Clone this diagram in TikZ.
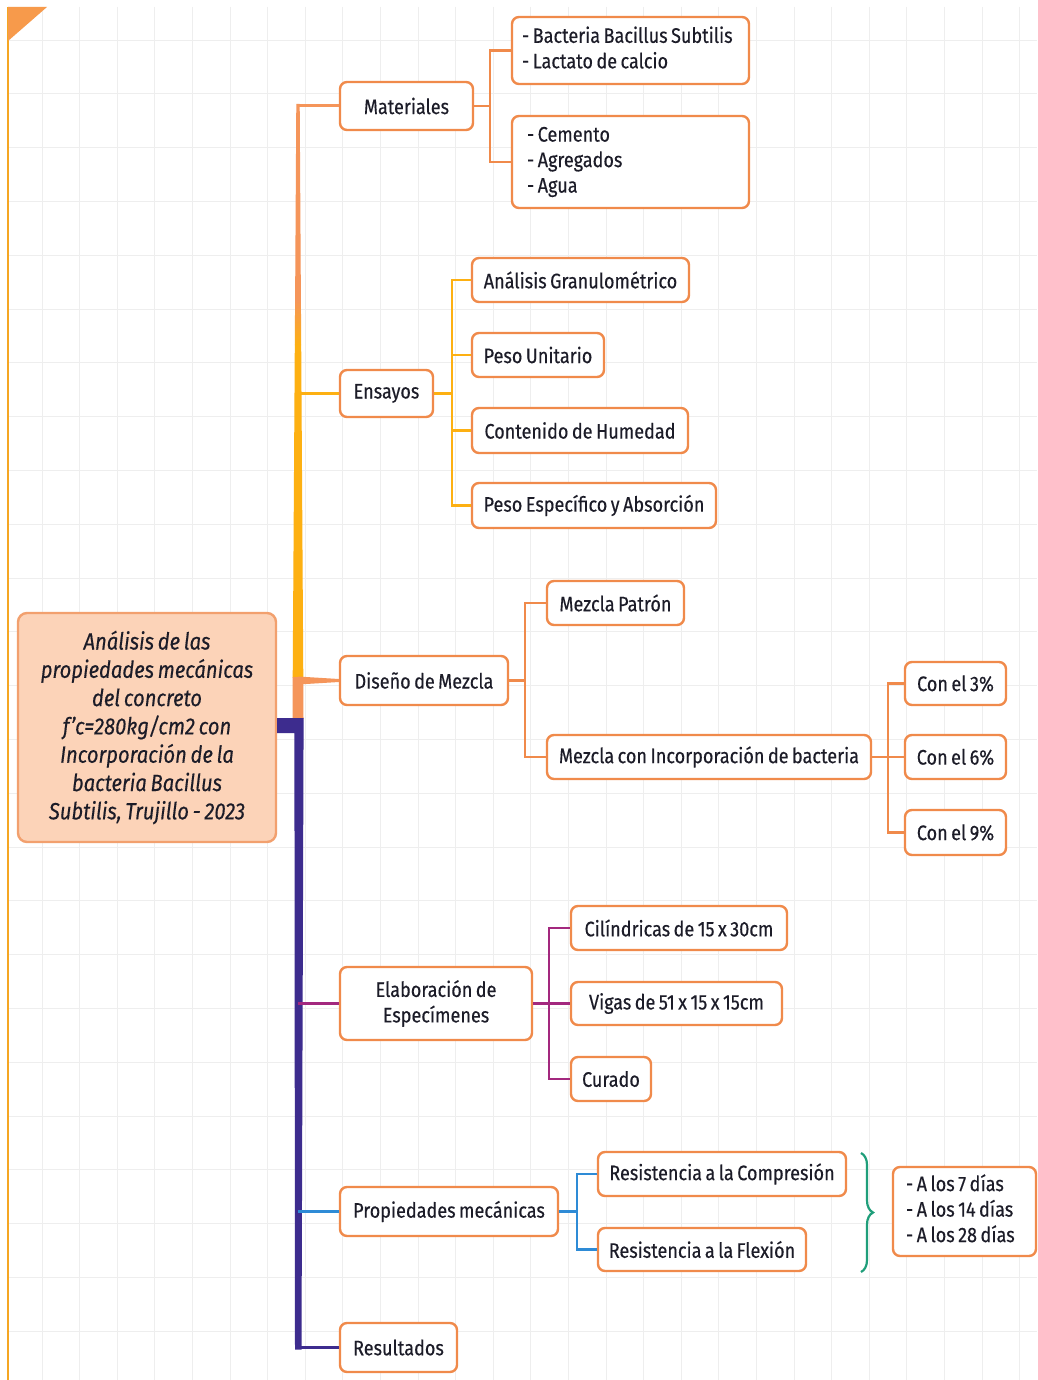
\documentclass[tikz,border=0pt]{standalone}
\usepackage{fontspec}
\setmainfont{Fira Sans}[FakeStretch=0.86, WordSpace=0.72, FakeBold=0.35]
\usetikzlibrary{decorations.pathreplacing}
\definecolor{bord}{HTML}{F08A4B}
\definecolor{rootfill}{HTML}{FCD3B8}
\definecolor{rootbord}{HTML}{F2A06E}
\definecolor{tor}{HTML}{F5955A}
\definecolor{amb}{HTML}{FDB012}
\definecolor{pur}{HTML}{3D2C8E}
\definecolor{mag}{HTML}{A3287E}
\definecolor{blu}{HTML}{2E8BD6}
\definecolor{grn}{HTML}{1F9E7A}
\definecolor{txt}{HTML}{1C1C28}
\definecolor{gridc}{HTML}{EEEEEE}
\definecolor{edgeor}{HTML}{F5A623}
\newcommand{\leftlines}[2]{\makebox[#1][l]{\begin{tabular}{@{}l@{}}#2\end{tabular}}}
\tikzset{
  box/.style={draw=bord, line width=2.4pt, rounded corners=7pt, fill=white,
    inner sep=0pt, text=txt, font=\fontsize{21}{25.5}\selectfont},
  rootbox/.style={draw=rootbord, line width=2.4pt, rounded corners=9pt, fill=rootfill,
    inner sep=0pt, text=txt, align=center, font=\fontsize{23.5}{28.3}\selectfont\itshape},
  con/.style={line width=2.6pt},
  stub/.style={line width=3pt},
}
\begin{document}
\begin{tikzpicture}[x=1pt,y=-1pt]
\useasboundingbox (0,0) rectangle (1037,1380);
\fill[white] (0,0) rectangle (1037,1380);
% grid
\foreach \i in {0,...,26} {\draw[gridc, line width=0.8pt] ({42+37.6*\i},7) -- ({42+37.6*\i},1380);}
\foreach \j in {0,...,25} {\draw[gridc, line width=0.8pt] (8,{40+53.8*\j}) -- (1037,{40+53.8*\j});}
% page edge
\draw[edgeor, line width=1.5pt] (8,7) -- (8,1380);
\fill[tor!80!amb] (8,7) -- (47,7) -- (8,41) -- cycle;

% root
\node[rootbox, minimum width=258pt, minimum height=229pt] (root) at (147,727.5)
 {Análisis de las\\propiedades mecánicas\\del concreto\\f'c=280kg/cm2 con\\Incorporación de la\\bacteria Bacillus\\Subtilis, Trujillo - 2023};

% level 1
\node[box, minimum width=133pt, minimum height=48pt] (mat) at (406.5,106) {Materiales};
\node[box, minimum width=93pt, minimum height=47pt] (ens) at (386.5,393.5) {Ensayos};
\node[box, minimum width=168pt, minimum height=49pt] (dis) at (424,680.5) {Diseño de Mezcla};
\node[box, minimum width=192pt, minimum height=73pt, align=center] (ela) at (436,1003.5) {Elaboración de\\Especímenes};
\node[box, minimum width=218pt, minimum height=49pt] (pro) at (449,1211.5) {Propiedades mecánicas};
\node[box, minimum width=117pt, minimum height=49pt] (res) at (398.5,1347.5) {Resultados};

% level 2
\node[box, minimum width=237pt, minimum height=67pt] (bact) at (630.5,50.5) {\leftlines{217pt}{- Bacteria Bacillus Subtilis\\- Lactato de calcio}};
\node[box, minimum width=237pt, minimum height=92pt] (cem) at (630.5,162) {\leftlines{207pt}{- Cemento\\- Agregados\\- Agua}};
\node[box, minimum width=217pt, minimum height=44pt] (ana) at (580.5,280) {Análisis Granulométrico};
\node[box, minimum width=132pt, minimum height=44pt] (pu) at (538,355) {Peso Unitario};
\node[box, minimum width=216pt, minimum height=45pt] (ch) at (580,430.5) {Contenido de Humedad};
\node[box, minimum width=244pt, minimum height=45pt] (pe) at (594,505.5) {Peso Específico y Absorción};
\node[box, minimum width=137pt, minimum height=44pt] (mp) at (615.5,603) {Mezcla Patrón};
\node[box, minimum width=324pt, minimum height=44pt] (mci) at (709,757) {Mezcla con Incorporación de bacteria};
\node[box, minimum width=101pt, minimum height=43pt] (c3) at (955.5,683.5) {Con el 3\%};
\node[box, minimum width=101pt, minimum height=44pt] (c6) at (955.5,757) {Con el 6\%};
\node[box, minimum width=101pt, minimum height=45pt] (c9) at (955.5,832.5) {Con el 9\%};
\node[box, minimum width=216pt, minimum height=44pt] (cil) at (679,928) {Cilíndricas de 15 x 30cm};
\node[box, minimum width=211pt, minimum height=43pt] (vig) at (676.5,1003.5) {Vigas de 51 x 15 x 15cm};
\node[box, minimum width=80pt, minimum height=44pt] (cur) at (611,1079) {Curado};
\node[box, minimum width=248pt, minimum height=44pt] (rc) at (722,1174) {Resistencia a la Compresión};
\node[box, minimum width=208pt, minimum height=43pt] (rf) at (702,1249.5) {Resistencia a la Flexión};
\node[box, minimum width=143pt, minimum height=89pt] (dias) at (964.5,1211.5) {\leftlines{117pt}{- A los 7 días\\- A los 14 días\\- A los 28 días}};

% trunk (upper)
\fill[tor] (296.3,104) -- (299.7,104) -- (300.9,300) -- (295.1,300) -- cycle;
\shade[top color=tor, bottom color=amb] (295.1,299.5) -- (300.9,299.5) -- (301.2,345) -- (294.8,345) -- cycle;
\fill[amb] (294.8,344.5) -- (301.2,344.5) -- (303.3,677.5) -- (292.7,677.5) -- cycle;
\fill[tor] (292.7,677) -- (303.3,677) -- (303.5,718.5) -- (292.5,718.5) -- cycle;
% trunk (lower)
\fill[pur] (277,718) -- (303.6,718) -- (301.5,1349.5) -- (295,1349.5) -- (294.4,733) -- (277,733) -- cycle;

% stubs from trunk
\coordinate (tmat) at (296.5,106);
\coordinate (tens) at (298,393.5);
\coordinate (tela) at (298,1003.5);
\coordinate (tpro) at (298,1211.5);
\coordinate (tres) at (296.5,1347.5);
\draw[stub, tor] (tmat) -- (mat.west);
\draw[stub, amb] (tens) -- (ens.west);
\fill[tor] (298,676.5) -- (dis.west |- 0,679) -- (dis.west |- 0,682) -- (298,684.5) -- cycle;
\draw[stub, mag] (tela) -- (ela.west);
\draw[stub, blu] (tpro) -- (pro.west);
\draw[stub, pur, line width=3.6pt] (tres) -- (res.west);

% sub-brackets
\coordinate (jmat) at (490,106);
\draw[con, bord] (mat.east) -- (jmat);
\draw[con, bord] (jmat) |- (bact.west);
\draw[con, bord] (jmat) |- (cem.west);

\coordinate (jens) at (452,393.5);
\draw[con, amb] (ens.east) -- (jens);
\draw[con, amb] (jens) |- (ana.west);
\draw[con, amb] (jens) |- (pu.west);
\draw[con, amb] (jens) |- (ch.west);
\draw[con, amb] (jens) |- (pe.west);

\coordinate (jdis) at (525,680.5);
\draw[con, bord] (dis.east) -- (jdis);
\draw[con, bord] (jdis) |- (mp.west);
\draw[con, bord] (jdis) |- (mci.west);

\coordinate (jmci) at (888,757);
\draw[con, bord] (mci.east) -- (jmci);
\draw[con, bord] (jmci) |- (c3.west);
\draw[con, bord] (jmci) -- (c6.west);
\draw[con, bord] (jmci) |- (c9.west);

\coordinate (jela) at (549,1003.5);
\draw[con, mag] (ela.east) -- (jela);
\draw[con, mag] (jela) |- (cil.west);
\draw[con, mag] (jela) -- (vig.west);
\draw[con, mag] (jela) |- (cur.west);

\coordinate (jpro) at (577,1211.5);
\draw[con, blu] (pro.east) -- (jpro);
\draw[con, blu] (jpro) |- (rc.west);
\draw[con, blu] (jpro) |- (rf.west);

% brace
\coordinate (bra) at (861,1153);
\coordinate (brb) at (861,1272);
\draw[grn, line width=2.2pt, decorate, decoration={brace, amplitude=12pt, aspect=0.5}] (bra) -- (brb);
\end{tikzpicture}
\end{document}
